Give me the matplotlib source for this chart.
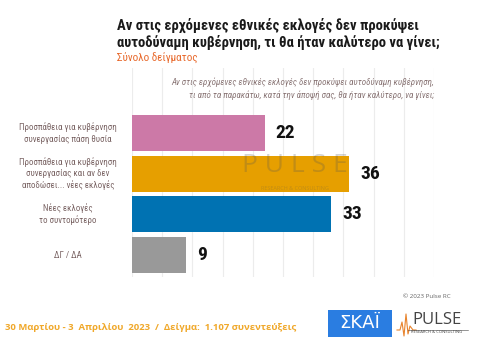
import matplotlib
matplotlib.use("Agg")
import matplotlib.pyplot as plt
from matplotlib import font_manager as fm
from matplotlib.patches import Rectangle
from matplotlib.lines import Line2D

names = {f.name for f in fm.fontManager.ttflist}
def pick(*cands):
    for c in cands:
        if c in names:
            return c
    return "DejaVu Sans"

COND = pick("Roboto Condensed", "Liberation Sans Narrow", "Roboto")
FOOT = pick("Liberation Sans Narrow", "Open Sans", "Noto Sans")

categories = [
    "Προσπάθεια για κυβέρνηση\nσυνεργασίας πάση θυσία",
    "Προσπάθεια για κυβέρνηση\nσυνεργασίας και αν δεν\nαποδώσει... νέες εκλογές",
    "Νέες εκλογές\nτο συντομότερο",
    "ΔΓ / ΔΑ",
]
values = [22, 36, 33, 9]
colors = ["#CC79A7", "#E69F00", "#0072B2", "#999999"]

title = "Αν στις ερχόμενες εθνικές εκλογές δεν προκύψει\nαυτοδύναμη κυβέρνηση, τι θα ήταν καλύτερο να γίνει;"
subtitle = "Σύνολο δείγματος"
question = ("Αν στις ερχόμενες εθνικές εκλογές δεν προκύψει αυτοδύναμη κυβέρνηση,\n"
            "τι από τα παρακάτω, κατά την άποψή σας, θα ήταν καλύτερο, να γίνει;")
footer = "30 Μαρτίου - 3  Απριλίου  2023  /  Δείγμα:  1.107 συνεντεύξεις"
copyright_txt = "© 2023 Pulse RC"

W, H = 489, 350
fig = plt.figure(figsize=(W / 100, H / 100), dpi=100)
fig.patch.set_facecolor("white")

def fx(px):
    return px / W
def fy(py):
    return 1 - py / H

ax = fig.add_axes([fx(132), fy(277), fx(434) - fx(132), fy(68) - fy(277)])
ypos = list(range(len(values)))
ax.barh(ypos, values, height=0.89, color=colors, zorder=2)
ax.set_xlim(0, 50)
ax.set_ylim(3.54, -1.6)
ax.set_xticks(range(0, 51, 5))
ax.grid(axis="x", color="#ececec", linewidth=0.8, zorder=0)
ax.tick_params(left=False, bottom=False, labelbottom=False, labelleft=False)
for s in ax.spines.values():
    s.set_visible(False)

for y, v, c in zip(ypos, values, categories):
    ax.text(v + 1.8, y, str(v), va="center", ha="left", fontsize=14,
            fontweight="bold", family=COND, color="#111111", zorder=3)
    ax.text(-10.6, y, c, va="center", ha="center", fontsize=6.4,
            family=COND, color="#7a6464", linespacing=1.25)

ax.text(50, -1.1, question, ha="right", va="center", fontsize=6.5,
        style="italic", family=COND, color="#8a7676", linespacing=1.45)

# watermark
fig.text(fx(295), fy(166), "P U L S E", ha="center", va="center", fontsize=19,
         family=FOOT, color="#555555", alpha=0.25)
fig.text(fx(295), fy(188), "RESEARCH & CONSULTING", ha="center", va="center",
         fontsize=4, family=FOOT, color="#555555", alpha=0.25)

fig.text(fx(117), fy(34), title, ha="left", va="center", fontsize=10.5,
         fontweight="bold", family=COND, color="#1a1a1a", linespacing=1.15)
fig.text(fx(117), fy(58.5), subtitle, ha="left", va="center", fontsize=8,
         family=COND, color="#E8692C")

fig.text(fx(5), fy(327), footer, ha="left", va="center", fontsize=6.8,
         fontweight="bold", family=FOOT, color="#F0A82A")
fig.text(fx(427), fy(296), copyright_txt, ha="center", va="center",
         fontsize=4.5, family=FOOT, color="#666666")

# SKAI logo
fig.add_artist(Rectangle((fx(328), fy(337)), fx(392) - fx(328), fy(310) - fy(337),
                         transform=fig.transFigure, facecolor="#2A7DE1", edgecolor="none"))
fig.text(fx(360), fy(323.5), "ΣΚΑΪ", ha="center", va="center", fontsize=13,
         family="DejaVu Sans", color="white")

# PULSE logo
fig.text(fx(437), fy(320), "PULSE", ha="center", va="center", fontsize=12,
         family=FOOT, color="#444444")
fig.text(fx(437), fy(332), "RESEARCH & CONSULTING", ha="center", va="center",
         fontsize=3, family=FOOT, color="#444444")
wx = [397, 400, 402, 404, 406, 408, 410, 413, 416]
wy = [330, 330, 322, 336, 314, 334, 326, 330, 330]
fig.add_artist(Line2D([fx(x) for x in wx], [fy(y) for y in wy],
                      transform=fig.transFigure, color="#E8832C", linewidth=0.8))
fig.add_artist(Line2D([fx(408), fx(468)], [fy(330), fy(330)],
                      transform=fig.transFigure, color="#444444", linewidth=0.4))

fig.savefig("out.png", dpi=100)
